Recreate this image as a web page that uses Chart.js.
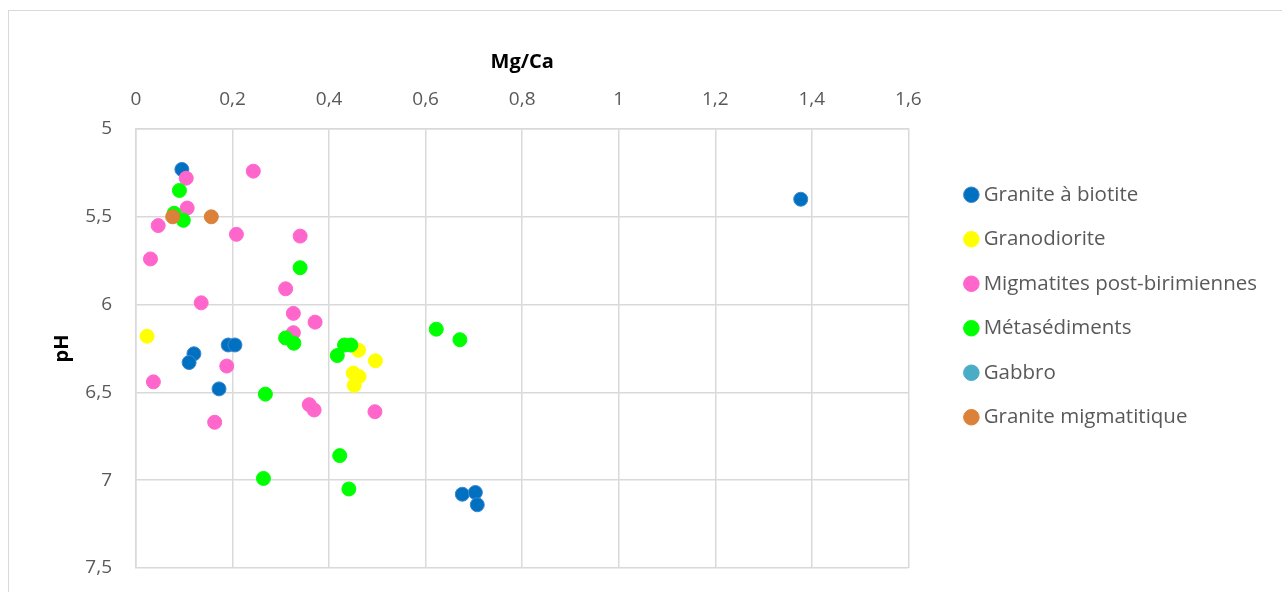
<!DOCTYPE html>
<html>
<head>
<meta charset="utf-8">
<script src="https://cdn.jsdelivr.net/npm/chart.js@4"></script>
<style>
  body { margin: 0; background: #fff; }
  #wrap { position: relative; width: 1282px; height: 592px; overflow: hidden; }
  #frame { position: absolute; left: 8px; top: 10px; width: 1300px; height: 620px; border: 1px solid #d9d9d9; }
  #c { position: absolute; left: 0; top: 0; }
</style>
</head>
<body>
<div id="wrap">
  <div id="frame"></div>
  <canvas id="c" width="1282" height="592"></canvas>
</div>
<script>
// Mg/Ca (x) vs pH (y)
const seriesNames = [
  "Granite à biotite",
  "Granodiorite",
  "Migmatites post-birimiennes",
  "Métasédiments",
  "Gabbro",
  "Granite migmatitique",
];

const biotiteX = [0.095, 0.191, 0.205, 0.12, 0.110, 0.172, 0.676, 0.703, 0.707, 1.377];
const biotiteY = [5.23, 6.23, 6.23, 6.28, 6.33, 6.48, 7.08, 7.07, 7.14, 5.40];

const granodioriteX = [0.023, 0.461, 0.496, 0.450, 0.462, 0.452];
const granodioriteY = [6.18, 6.26, 6.32, 6.39, 6.41, 6.46];

const migmatitesX = [0.104, 0.106, 0.046, 0.243, 0.208, 0.34, 0.030, 0.31, 0.135, 0.326,
  0.371, 0.326, 0.188, 0.036, 0.359, 0.369, 0.163, 0.495];
const migmatitesY = [5.28, 5.45, 5.55, 5.24, 5.60, 5.61, 5.74, 5.91, 5.99, 6.05,
  6.10, 6.16, 6.35, 6.44, 6.57, 6.60, 6.67, 6.61];

const metasedX = [0.090, 0.079, 0.098, 0.34, 0.31, 0.327, 0.622, 0.671, 0.432, 0.445,
  0.417, 0.268, 0.422, 0.264, 0.441];
const metasedY = [5.35, 5.48, 5.52, 5.79, 6.19, 6.22, 6.14, 6.20, 6.23, 6.23,
  6.29, 6.51, 6.86, 6.99, 7.05];

const gabbroX = [];
const gabbroY = [];

const granMigX = [0.076, 0.156];
const granMigY = [5.50, 5.50];

const fills = ["#0070C0", "#FFFF00", "#FF66CC", "#00FF00", "#4BACC6", "#DB8139"];
const borders = ["#3f86cc", "#FFFF00", "#FF66CC", "#00FF00", "#4BACC6", "#DB8139"];

const xs = [biotiteX, granodioriteX, migmatitesX, metasedX, gabbroX, granMigX];
const ys = [biotiteY, granodioriteY, migmatitesY, metasedY, gabbroY, granMigY];

function toPoints(x, y) {
  return x.map((v, i) => ({ x: v, y: y[i] }));
}

const fmt = (v) => (Math.round(v * 10) / 10).toString().replace(".", ",");

Chart.defaults.font.family = "'Open Sans', sans-serif";
Chart.defaults.color = "#595959";

new Chart(document.getElementById("c").getContext("2d"), {
  type: "scatter",
  data: {
    datasets: seriesNames.map((name, i) => ({
      label: name,
      data: toPoints(xs[i], ys[i]),
      backgroundColor: fills[i],
      borderColor: borders[i],
      borderWidth: 1,
      pointRadius: 7,
      pointHoverRadius: 7,
      order: seriesNames.length - i,
    })),
  },
  options: {
    responsive: false,
    animation: false,
    layout: { padding: { left: 0, top: 10, right: 21.5, bottom: 24 } },
    plugins: {
      tooltip: { enabled: false },
      legend: {
        position: "right",
        title: { display: true, text: " ", font: { size: 10 }, padding: 11 },
        labels: {
          usePointStyle: true,
          pointStyle: "circle",
          boxWidth: 4,
          boxHeight: 11,
          padding: 24,
          color: "#595959",
          font: { size: 20.5 },
          sort: (a, b) => a.datasetIndex - b.datasetIndex,
        },
      },
    },
    scales: {
      x: {
        type: "linear",
        position: "top",
        min: 0,
        max: 1.6,
        afterFit: (scale) => { scale.height = 119; },
        ticks: { stepSize: 0.2, padding: 18, font: { size: 19 }, callback: fmt },
        grid: { color: "#d9d9d9", lineWidth: 1.5, drawTicks: false },
        border: { color: "#d9d9d9", width: 1.5 },
        title: {
          display: true,
          text: "Mg/Ca",
          color: "#000",
          font: { size: 20, weight: "bold" },
          padding: { top: 40, bottom: 0 },
        },
      },
      y: {
        type: "linear",
        reverse: true,
        min: 5,
        max: 7.5,
        afterFit: (scale) => {
          scale.width = 136;
          scale.paddingBottom = 0;
        },
        ticks: { stepSize: 0.5, padding: 24, font: { size: 19 }, callback: fmt },
        grid: { color: "#d9d9d9", lineWidth: 1.5, drawTicks: false },
        border: { color: "#d9d9d9", width: 1.5 },
        title: {
          display: true,
          text: "pH",
          color: "#000",
          font: { size: 20, weight: "bold" },
          padding: { top: 50, bottom: 0 },
        },
      },
      // hidden spacer between the plot and the legend
      gap: {
        type: "linear",
        position: "right",
        display: false,
        afterFit: (scale) => { scale.width = 37; },
      },
    },
  },
});
</script>
</body>
</html>
